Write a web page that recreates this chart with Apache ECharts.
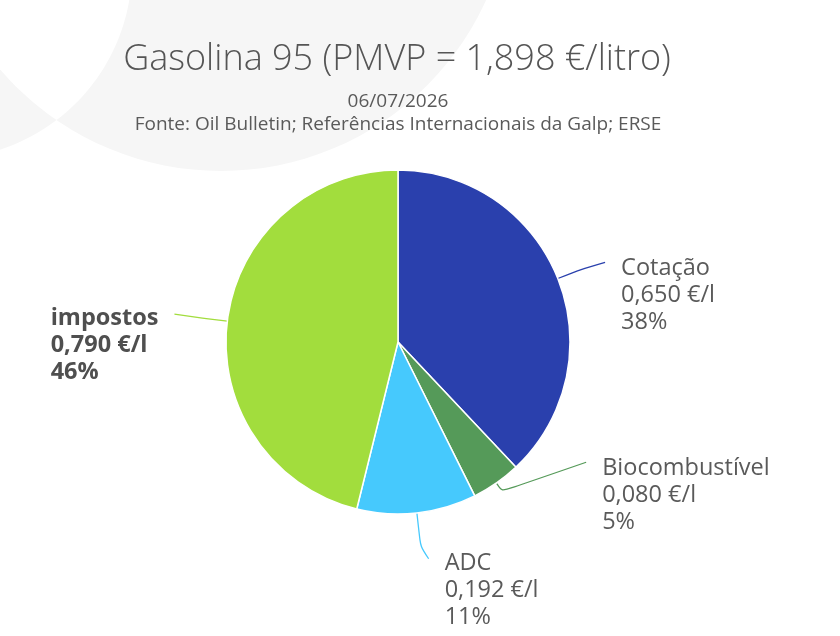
<!DOCTYPE html>
<html><head><meta charset="utf-8">
<script src="https://cdn.jsdelivr.net/npm/echarts@6/dist/echarts.min.js"></script>
<style>html,body{margin:0;padding:0;background:#fff}#c{width:840px;height:636px}</style>
</head><body><div id="c"></div>
<script>
// ---- data ----
const categories = ['Cotação', 'Biocombustível', 'ADC', 'impostos'];
const values = [0.650, 0.080, 0.192, 0.790];
const titleText = 'Gasolina 95 (PMVP = 1,898 €/litro)';
const dateText = '06/07/2026';
const sourceText = 'Fonte: Oil Bulletin; Referências Internacionais da Galp; ERSE';
const unitText = '€/l';

// ---- styles ----
const colors = ['#2a40ad', '#559a59', '#46c9fd', '#a2dd3d'];
const FONT = 'Open Sans';
const TEXT_COLOR = '#5a5a5a';
// connector: radial run from slice edge, bend offset to line end, side of label, label top offset
const connectors = [
  { run: 25, bend: [24, -7], side: 1, top: -7 },
  { run: 10, bend: [84, -29], side: 1, top: -7 },
  { run: 34, bend: [8, 12], side: 1, top: -9 },
  { run: 25, bend: [-28, -4], side: -1, top: -9 }
];
const LABEL_GAP = 16;

// ---- background decoration (two overlapping soft circles, overlap left white) ----
const circA = { cx: -59, cy: -32, r: 191 };
const circB = { cx: 221, cy: -120, r: 291 };
function lensPoints(A, B) {
  const dx = B.cx - A.cx, dy = B.cy - A.cy, d = Math.hypot(dx, dy);
  const a = (A.r * A.r - B.r * B.r + d * d) / (2 * d);
  const h = Math.sqrt(A.r * A.r - a * a);
  const px = A.cx + a * dx / d, py = A.cy + a * dy / d;
  const i1 = [px + h * (-dy) / d, py + h * dx / d];
  const i2 = [px - h * (-dy) / d, py - h * dx / d];
  function arcPts(C, p, q, n) {
    let t1 = Math.atan2(p[1] - C.cy, p[0] - C.cx), t2 = Math.atan2(q[1] - C.cy, q[0] - C.cx);
    let diff = t2 - t1;
    while (diff > Math.PI) diff -= 2 * Math.PI;
    while (diff < -Math.PI) diff += 2 * Math.PI;
    const out = [];
    for (let k = 0; k <= n; k++) {
      const t = t1 + diff * k / n;
      out.push([C.cx + C.r * Math.cos(t), C.cy + C.r * Math.sin(t)]);
    }
    return out;
  }
  return arcPts(A, i1, i2, 80).concat(arcPts(B, i2, i1, 80));
}

const chart = echarts.init(document.getElementById('c'), null, { renderer: 'canvas' });

const seriesData = categories.map((name, i) => {
  const item = { name: name, value: values[i], itemStyle: { color: colors[i] }, labelLine: { lineStyle: { color: colors[i] } } };
  if (name === 'impostos') item.label = { fontWeight: 'bold', color: '#4f4f4f' };
  return item;
});

chart.setOption({
  animation: false,
  graphic: [
    { type: 'circle', z: -10, silent: true, shape: { cx: circA.cx, cy: circA.cy, r: circA.r }, style: { fill: '#f6f6f6' } },
    { type: 'circle', z: -10, silent: true, shape: { cx: circB.cx, cy: circB.cy, r: circB.r }, style: { fill: '#f6f6f6' } },
    { type: 'polygon', z: -9, silent: true, shape: { points: lensPoints(circA, circB) }, style: { fill: '#ffffff' } }
  ],
  title: [
    {
      text: titleText, left: 397, top: 41, padding: 0, textAlign: 'center',
      textStyle: { fontFamily: FONT, fontSize: 36, fontWeight: 300, color: '#555555', lineHeight: 38 }
    },
    {
      text: dateText + '\n' + sourceText, left: 398, top: 90, padding: 0, textAlign: 'center',
      textStyle: { fontFamily: FONT, fontSize: 19, fontWeight: 'normal', color: '#5a5a5a', lineHeight: 23 }
    }
  ],
  series: [{
    type: 'pie',
    center: [398, 342],
    radius: 172,
    startAngle: 90,
    clockwise: true,
    avoidLabelOverlap: false,
    itemStyle: { borderColor: '#ffffff', borderWidth: 1.5 },
    label: {
      show: true,
      position: 'outside',
      fontFamily: FONT,
      fontSize: 23.5,
      lineHeight: 27,
      color: TEXT_COLOR,
      formatter: function (p) {
        return p.name + '\n' + p.value.toFixed(3).replace('.', ',') + ' ' + unitText + '\n' + Math.round(p.percent) + '%';
      }
    },
    labelLine: { show: true, length: 15, length2: 0, smooth: 0.25, lineStyle: { width: 1.3 } },
    labelLayout: function (p) {
      const c = connectors[p.dataIndex];
      const pts = p.labelLinePoints;
      if (!pts || pts.length < 2) return {};
      const p0 = pts[0], p1 = pts[1];
      let dx = p1[0] - p0[0], dy = p1[1] - p0[1];
      const L = Math.hypot(dx, dy) || 1; dx /= L; dy /= L;
      const m = [p0[0] + dx * c.run, p0[1] + dy * c.run];
      const e = [m[0] + c.bend[0], m[1] + c.bend[1]];
      const x = c.side > 0 ? e[0] + LABEL_GAP : e[0] - LABEL_GAP - p.labelRect.width;
      return { x: x, y: e[1] + c.top, align: 'left', verticalAlign: 'top', labelLinePoints: [p0, m, e] };
    },
    emphasis: { disabled: true },
    data: seriesData
  }]
});
</script>
</body></html>
